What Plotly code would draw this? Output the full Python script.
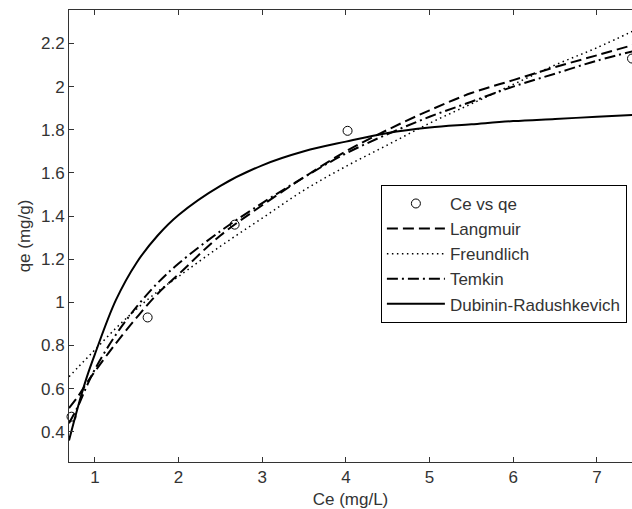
import plotly.graph_objects as go

# Experimental data
ce_data = [0.72, 1.63, 2.67, 4.02, 7.42]
qe_data = [0.47, 0.93, 1.36, 1.795, 2.13]

# Fitted model curves
ce_fit = [0.69, 0.8, 0.9, 1.0, 1.25, 1.5, 1.75, 2.0, 2.5, 3.0, 3.5, 4.0, 4.5, 5.0, 5.5, 6.0, 6.5, 7.0, 7.5]
langmuir = [0.51, 0.565, 0.625, 0.68, 0.81, 0.93, 1.04, 1.13, 1.31, 1.45, 1.58, 1.70, 1.80, 1.89, 1.97, 2.03, 2.09, 2.145, 2.20]
freundlich = [0.655, 0.70, 0.74, 0.78, 0.88, 0.97, 1.05, 1.12, 1.26, 1.39, 1.52, 1.63, 1.73, 1.83, 1.92, 2.01, 2.10, 2.18, 2.27]
temkin = [0.44, 0.52, 0.61, 0.69, 0.85, 0.98, 1.09, 1.18, 1.33, 1.46, 1.58, 1.69, 1.78, 1.86, 1.93, 2.00, 2.06, 2.12, 2.17]
dubinin = [0.36, 0.52, 0.65, 0.76, 1.01, 1.185, 1.31, 1.405, 1.54, 1.635, 1.70, 1.745, 1.785, 1.81, 1.825, 1.84, 1.85, 1.86, 1.87]

x_ticks = [1, 2, 3, 4, 5, 6, 7]
y_ticks = [0.4, 0.6, 0.8, 1.0, 1.2, 1.4, 1.6, 1.8, 2.0, 2.2]
y_tick_text = ["0.4", "0.6", "0.8", "1", "1.2", "1.4", "1.6", "1.8", "2", "2.2"]

FONT = "Liberation Sans, Arial, sans-serif"
TXT = "#333333"
FS = 17

fig = go.Figure()
fig.add_trace(go.Scatter(x=ce_data, y=qe_data, mode="markers", name="Ce vs qe",
                         marker=dict(symbol="circle-open", size=9, color="black", line=dict(width=1)),
                         cliponaxis=False))
fig.add_trace(go.Scatter(x=ce_fit, y=langmuir, mode="lines", name="Langmuir", line_shape="spline",
                         line=dict(color="black", width=2, dash="11px,5px")))
fig.add_trace(go.Scatter(x=ce_fit, y=freundlich, mode="lines", name="Freundlich", line_shape="spline",
                         line=dict(color="black", width=1.5, dash="1.5px,3.5px")))
fig.add_trace(go.Scatter(x=ce_fit, y=temkin, mode="lines", name="Temkin", line_shape="spline",
                         line=dict(color="black", width=2, dash="11px,4px,2px,4px")))
fig.add_trace(go.Scatter(x=ce_fit, y=dubinin, mode="lines", name="Dubinin-Radushkevich", line_shape="spline",
                         line=dict(color="black", width=2)))

fig.update_layout(
    width=632, height=509,
    margin=dict(l=69, r=0, t=10, b=47),
    paper_bgcolor="white", plot_bgcolor="white",
    font=dict(family=FONT, size=FS, color=TXT),
    showlegend=True,
    legend=dict(x=0.554, y=0.613, xanchor="left", yanchor="top",
                bgcolor="white", bordercolor="black", borderwidth=1,
                font=dict(family=FONT, size=FS, color=TXT),
                itemwidth=58, tracegroupgap=0),
    xaxis=dict(range=[0.69, 7.42], tickvals=x_ticks, ticks="inside", ticklen=5,
               tickcolor="#333", showline=True, linecolor="#333", linewidth=1,
               mirror="ticks", showgrid=False, zeroline=False,
               tickfont=dict(size=FS, color=TXT),
               title=dict(text="Ce (mg/L)", font=dict(size=FS, color=TXT), standoff=7)),
    yaxis=dict(range=[0.26, 2.355], tickvals=y_ticks, ticktext=y_tick_text, ticks="inside", ticklen=5,
               tickcolor="#333", showline=True, linecolor="#333", linewidth=1,
               mirror=False, showgrid=False, zeroline=False,
               tickfont=dict(size=FS, color=TXT),
               title=dict(text="qe (mg/g)", font=dict(size=FS, color=TXT), standoff=6)),
)

fig.write_html("out.html")
